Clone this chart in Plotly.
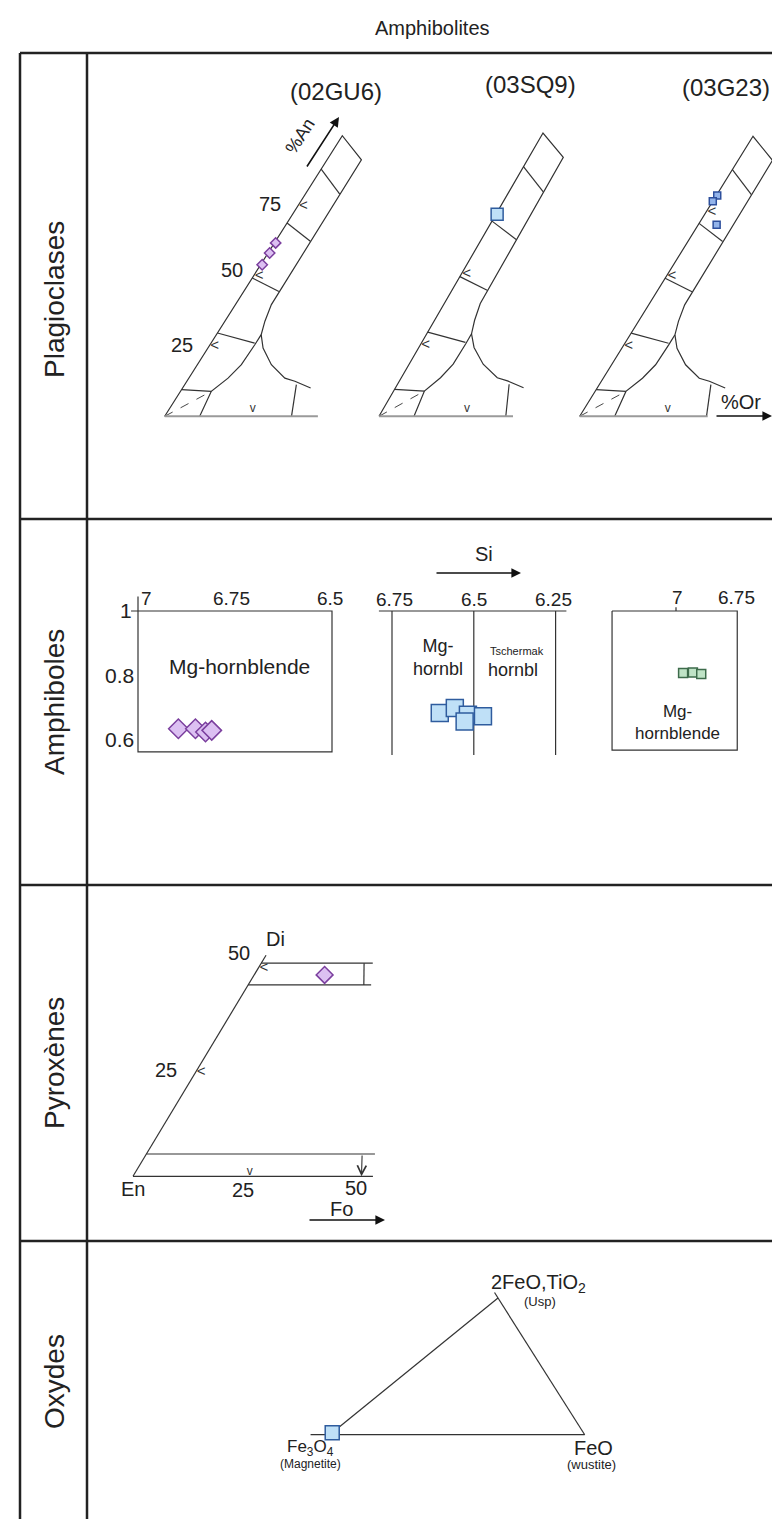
import plotly.graph_objects as go

W, H = 780, 1519

# ---------------- data ----------------
# Plagioclases (%An, %Or)
gu6_pl_an = [61.8, 58.2, 54.0]
gu6_pl_or = [0.3, 0.4, 0.4]
sq9_pl_an = [71.3]
sq9_pl_or = [0.3]
g23_pl_an = [78.9, 76.8, 68.4]
g23_pl_or = [0.2, 0.0, 4.6]

# Amphiboles (Si apfu, Mg/(Mg+Fe2+))
gu6_am_si = [6.896, 6.852, 6.826, 6.81]
gu6_am_mg = [0.632, 0.632, 0.622, 0.627]
sq9_am_si = [6.604, 6.558, 6.518, 6.472, 6.528]
sq9_am_mg = [0.681, 0.697, 0.676, 0.671, 0.655]
g23_am_si = [6.971, 6.931, 6.897]
g23_am_mg = [0.806, 0.808, 0.803]

# Pyroxene (Wo %, Fs %)
gu6_px_wo = [48.3]
gu6_px_fs = [15.4]

# Oxydes (FeO %, Usp %)
sq9_ox_feo = [0.0]
sq9_ox_usp = [1.5]

# diagram templates
pl_outline_an = [0, 100, 91.4, 44.5, 39.8, 33.9, 29.1, 25.5, 18.4, 13.6, 8.9, 0]
pl_outline_or = [0, 0, 8.6, 8.8, 9.0, 10.0, 11.2, 11.2, 11.0, 9.8, 7.7, 8.75]
pl_branch_an = [29.1, 24.3, 18.4, 13.6, 12.5, 10.1]
pl_branch_or = [11.2, 13.8, 18.5, 24.0, 27.0, 32.0]
pl_cross = [((29.7, 0), (26.1, 10.9)), ((49.3, 0), (44.5, 8.8)),
            ((68.9, 0), (62.4, 8.7)), ((88.1, 0), (79.2, 8.6)),
            ((9.5, 0), (8.9, 7.7)), ((11.3, 27.9), (0, 31.7))]
pl_bottom_or = [38.3, 33.5, 32.0]
pl_tick_an = [[25, 50, 75], [25, 50], [25, 50, 73]]

LINE = "#333333"
TXT = "#222222"
PURPLE = dict(color="#dcc0f2", line=dict(color="#7b3f9e", width=1.5))
BLUE = dict(color="#bfe0f7", line=dict(color="#2f5c9e", width=1.5))
BLUE2 = dict(color="#93b4ea", line=dict(color="#2d4f9c", width=1.5))
GREEN = dict(color="#bfe3c6", line=dict(color="#3d6b4b", width=1.5))

fig = go.Figure()
axes = {}
count = [0]


def frame(x0, px0, sx, y0, py0, sy, xr, yr):
    # one invisible cartesian frame per diagram, placed on the page
    count[0] += 1
    n = "" if count[0] == 1 else str(count[0])
    xs = sorted(px0 + sx * (v - x0) for v in xr)
    ys = sorted(H - (py0 - sy * (v - y0)) for v in yr)
    axes["xaxis" + n] = dict(domain=[xs[0] / W, xs[1] / W], range=list(xr), visible=False,
                             anchor="y" + n, fixedrange=True)
    axes["yaxis" + n] = dict(domain=[ys[0] / H, ys[1] / H], range=list(yr), visible=False,
                             anchor="x" + n, fixedrange=True)
    return "x" + n, "y" + n


def seg(ax, xs, ys, color=LINE, width=1.2, dash=None):
    fig.add_trace(go.Scatter(x=xs, y=ys, mode="lines", xaxis=ax[0], yaxis=ax[1],
                             line=dict(color=color, width=width, dash=dash),
                             hoverinfo="skip", showlegend=False))


def pts(ax, xs, ys, mk, symbol="square", size=10):
    fig.add_trace(go.Scatter(x=xs, y=ys, mode="markers", xaxis=ax[0], yaxis=ax[1],
                             marker=dict(symbol=symbol, size=size, **mk),
                             hoverinfo="skip", showlegend=False))


def tick(ax, xs, ys, ch, pos, size=15):
    fig.add_trace(go.Scatter(x=xs, y=ys, mode="text", text=[ch] * len(xs), textposition=pos,
                             xaxis=ax[0], yaxis=ax[1], textfont=dict(size=size, color=LINE),
                             hoverinfo="skip", showlegend=False))


def label(text, x, y, size=20, angle=0, xanchor="center", yanchor="middle"):
    fig.add_annotation(text=text, x=x / W, y=1 - y / H, xref="paper", yref="paper",
                       showarrow=False, textangle=angle, xanchor=xanchor, yanchor=yanchor,
                       font=dict(size=size, color=TXT))


def arrow(x0, y0, x1, y1):
    fig.add_annotation(x=x1 / W, y=1 - y1 / H, xref="paper", yref="paper", ax=x0 - x1, ay=y0 - y1,
                       axref="pixel", ayref="pixel", text="", showarrow=True, arrowhead=2,
                       arrowsize=1.2, arrowwidth=1.6, arrowcolor="#111111")


# ---------------- table ----------------
for y in [45, 511, 877, 1233]:
    fig.add_shape(type="line", xref="paper", yref="paper", x0=12 / W, x1=1, y0=1 - y / H, y1=1 - y / H,
                  line=dict(color="#222222", width=2.5))
for x in [12, 79]:
    fig.add_shape(type="line", xref="paper", yref="paper", x0=x / W, x1=x / W, y0=0, y1=1 - 45 / H,
                  line=dict(color="#222222", width=2.5))

label("Amphibolites", 425, 20, size=20)
label("Plagioclases", 46, 292, size=28, angle=-90)
label("Amphiboles", 46, 694, size=28, angle=-90)
label("Pyroxènes", 46, 1055, size=28, angle=-90)
label("Oxydes", 46, 1374, size=28, angle=-90)

# ---------------- plagioclases ----------------
# Ab corner on the page, px per %Or, and shear of the An edge (px per %An)
pl_frames = [(156.7, 1.776, 2.806), (371.0, 1.64, 2.833), (571.7, 1.733, 2.80)]
pl_data = [(gu6_pl_an, gu6_pl_or, PURPLE, "diamond", 8),
           (sq9_pl_an, sq9_pl_or, BLUE, "square", 12),
           (g23_pl_an, g23_pl_or, BLUE2, "square", 7)]
for i, (ox, kx, ky) in enumerate(pl_frames):
    k = kx / 4.0
    ax = frame(0, ox, 4.0, 0, 408.3, ky, (-3, 52), (-3, 103))

    def xy(an, orr):
        return [o + a * k for a, o in zip(an, orr)], list(an)

    seg(ax, *xy(pl_outline_an, pl_outline_or))
    seg(ax, *xy(pl_branch_an, pl_branch_or))
    for (a0, o0), (a1, o1) in pl_cross:
        seg(ax, *xy([a0, a1], [o0, o1]))
    seg(ax, *xy([0, 8.9], [0, 7.7]), dash="dash", width=0.9)
    seg(ax, *xy([0, 0], [0, pl_bottom_or[i]]), color="#9a9a9a", width=2)
    tx, ty = xy(pl_tick_an[i], [0.3] * len(pl_tick_an[i]))
    tick(ax, tx, ty, "<", "middle right")
    tick(ax, [22], [0.5], "v", "top center", size=12)
    an, orr, mk, sym, sz = pl_data[i]
    pts(ax, *xy(an, orr), mk, symbol=sym, size=sz)

label("(02GU6)", 328, 84, size=24)
label("(03SQ9)", 522, 76, size=24)
label("(03G23)", 718, 80, size=24)
label("%An", 292, 128, size=18, angle=-57)
arrow(298, 160, 331, 109)
label("75", 262, 196, size=20)
label("50", 224, 262, size=20)
label("25", 174, 337, size=20)
label("%Or", 733, 394, size=20)
arrow(707, 408, 764, 408)

# ---------------- amphiboles ----------------
am1 = frame(7.0, 130, -388, 1.0, 603, 320, (7.06, 6.44), (0.5, 1.07))
seg(am1, [7.0, 6.5, 6.5, 7.0, 7.0], [1.0, 1.0, 0.56, 0.56, 1.045])
seg(am1, [7.0, 7.018], [1.0, 1.0])
pts(am1, gu6_am_si, gu6_am_mg, PURPLE, symbol="diamond", size=15)

am2 = frame(6.75, 384, -327.2, 1.0, 603, 320, (6.8, 6.2), (0.5, 1.07))
seg(am2, [6.79, 6.217], [1.0, 1.0])
for s in [6.75, 6.5, 6.25]:
    seg(am2, [s, s], [1.0, 0.55])
pts(am2, sq9_am_si, sq9_am_mg, BLUE, symbol="square", size=17)

am3 = frame(7.0, 668, -245, 1.0, 603, 320, (7.3, 6.7), (0.5, 1.07))
seg(am3, [7.261, 6.75, 6.75, 7.261, 7.261], [1.0, 1.0, 0.565, 0.565, 1.0])
seg(am3, [7.0, 7.0], [1.0, 1.012])
pts(am3, g23_am_si, g23_am_mg, GREEN, symbol="square", size=9)

label("7", 138, 590, size=19)
label("6.75", 223, 590, size=19)
label("6.5", 322, 590, size=19)
label("1", 118, 603, size=21)
label("0.8", 112, 667, size=21)
label("0.6", 112, 731, size=21)
label("Mg-hornblende", 231, 658, size=21)
label("Si", 476, 546, size=20)
arrow(427, 565, 513, 565)
label("6.75", 386, 591, size=19)
label("6.5", 466, 591, size=19)
label("6.25", 545, 591, size=19)
label("Mg-<br>hornbl", 430, 650, size=18)
label("Tschermak", 509, 643, size=11)
label("hornbl", 505, 662, size=18)
label("7", 669, 589, size=19)
label("6.75", 728, 589, size=19)
label("Mg-<br>hornblende", 669, 714, size=17)

# ---------------- pyroxenes ----------------
kp = 2.51 / 4.57
px_ax = frame(0, 125, 4.57, 0, 1168.3, 4.17, (-2, 56), (-3, 55))


def pxy(wo, fs):
    return [f + w * kp for w, f in zip(wo, fs)], list(wo)


seg(px_ax, *pxy([0, 53], [0, 0]))
seg(px_ax, *pxy([0, 0], [0, 52.5]))
seg(px_ax, *pxy([5.35, 5.35], [0, 50]))
seg(px_ax, *pxy([45.9, 45.9], [0, 26.9]))
seg(px_ax, *pxy([51.1, 51.1], [0, 24.4]))
seg(px_ax, *pxy([45.9, 51.1], [25.3, 22.5]))
hx, hy = pxy([0, 5.35], [50, 47.2])
fig.add_annotation(x=hx[0], y=hy[0], ax=hx[1], ay=hy[1], xref=px_ax[0], yref=px_ax[1],
                   axref=px_ax[0], ayref=px_ax[1], text="", showarrow=True, arrowhead=5,
                   arrowsize=1.6, arrowwidth=1.1, arrowcolor=LINE)
tx, ty = pxy([1.0], [25])
tick(px_ax, tx, ty, "v", "middle center", size=12)
tx, ty = pxy([25, 50], [0.2, 0.2])
tick(px_ax, tx, ty, "<", "middle right")
pts(px_ax, *pxy(gu6_px_wo, gu6_px_fs), PURPLE, symbol="diamond", size=13)

label("Di", 267, 931, size=20)
label("50", 231, 945, size=20)
label("25", 158, 1062, size=20)
label("En", 125, 1181, size=20)
label("25", 235, 1182, size=20)
label("50", 348, 1180, size=20)
label("Fo", 333, 1201, size=20)
arrow(300, 1212, 377, 1212)

# ---------------- oxydes ----------------
ku = 168.3 / 255.0
ox_ax = frame(0, 321.7, 2.55, 0, 1426.7, 1.367, (-9, 102), (-5, 106))


def oxy(feo, usp):
    return [f + u * ku for f, u in zip(feo, usp)], list(usp)


seg(ox_ax, *oxy([-7.5, 100], [0, 0]))
seg(ox_ax, *oxy([0, 0], [0, 100]))
seg(ox_ax, *oxy([100, -4], [0, 104]))
pts(ox_ax, *oxy(sq9_ox_feo, sq9_ox_usp), BLUE, symbol="square", size=14)

label("2FeO,TiO<sub>2</sub>", 530, 1275, size=20)
label("(Usp)", 532, 1293, size=13)
label("Fe<sub>3</sub>O<sub>4</sub>", 302, 1440, size=17)
label("(Magnetite)", 302, 1456, size=12)
label("FeO", 585, 1440, size=20)
label("(wustite)", 583, 1456, size=13)

fig.update_layout(width=W, height=H, margin=dict(l=0, r=0, t=0, b=0),
                  paper_bgcolor="white", plot_bgcolor="rgba(0,0,0,0)",
                  font=dict(family="Liberation Sans, Arial, sans-serif", color=TXT),
                  showlegend=False, **axes)

fig.write_html("out.html")
